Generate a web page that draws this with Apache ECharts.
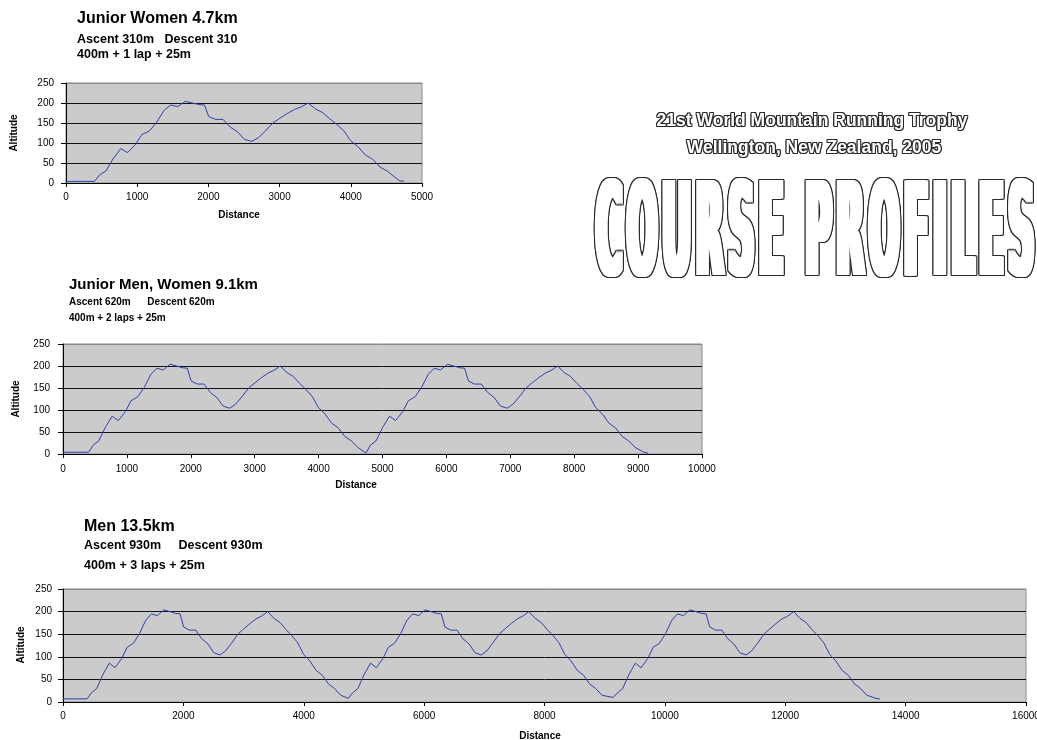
<!DOCTYPE html>
<html>
<head>
<meta charset="utf-8">
<script src="https://cdn.jsdelivr.net/npm/echarts@6/dist/echarts.min.js"></script>
<style>
  html, body { margin: 0; padding: 0; background: #ffffff; }
  #chart { width: 1037px; height: 740px; }
</style>
</head>
<body>
<div id="chart"></div>
<script>
// One lap of the circuit: metres from the start of the lap, altitude in metres
const lapDistance = [70, 160, 260, 370, 465, 575, 665, 770, 870, 975,
  1070, 1170, 1275, 1375, 1470, 1545, 1605, 1700, 1805, 1905,
  2010, 2105, 2210, 2300, 2400, 2505, 2605, 2710, 2810, 2900,
  3000, 3105, 3205, 3300, 3400, 3500, 3595, 3700, 3805, 3910,
  4010, 4110, 4215];
const lapAltitude = [20, 30, 60, 86, 76, 96, 121, 130, 151, 181,
  195, 191, 204, 200, 196, 195, 166, 159, 159, 140,
  128, 109, 104, 113, 130, 150, 162, 174, 184, 190,
  200, 185, 176, 161, 147, 131, 106, 91, 70, 59,
  40, 30, 15];

// Lap changeovers for each course (distance, altitude) and the finish point
const juniorWomenLapMarks = [400, 4690];
const juniorWomenMarkAltitude = [4, 5];
const juniorWomenFinish = [4750, 5];

const juniorMixedLapMarks = [400, 4740, 9090];
const juniorMixedMarkAltitude = [4, 2, 4];
const juniorMixedFinish = [9155, 2];

const menLapMarks = [400, 4740, 9140, 13505];
const menMarkAltitude = [7, 8, 10, 8];
const menFinish = [13570, 7];

// Axis extents
const altitudeMax = 250;
const altitudeStep = 50;
const distanceMax = [5000, 10000, 16000];
const distanceStep = [1000, 1000, 2000];

// 400 m lead-in, then the laps, then the run to the line
function buildCourse(marks, markAlt, finish) {
  const pts = [[0, markAlt[0]]];
  for (let i = 0; i < marks.length; i++) {
    pts.push([marks[i], markAlt[i]]);
    if (i < marks.length - 1) {
      for (let j = 0; j < lapDistance.length; j++) {
        pts.push([marks[i] + lapDistance[j], lapAltitude[j]]);
      }
    }
  }
  pts.push(finish);
  return pts;
}

const courses = [
  buildCourse(juniorWomenLapMarks, juniorWomenMarkAltitude, juniorWomenFinish),
  buildCourse(juniorMixedLapMarks, juniorMixedMarkAltitude, juniorMixedFinish),
  buildCourse(menLapMarks, menMarkAltitude, menFinish)
];

const FONT = '"Liberation Sans", Arial, Helvetica, sans-serif';

const grids = [
  { left: 66, top: 83, width: 356, height: 100 },
  { left: 63, top: 344, width: 639, height: 110 },
  { left: 63, top: 589, width: 963, height: 113 }
];
const yLabelMargin = [12, 13, 11];
const xLabelMargin = [9, 10, 9];

// Plain text helper
function label(text, x, y, size, opts) {
  opts = opts || {};
  return {
    type: 'text', x: x, y: y, rotation: opts.rotation || 0, silent: true, z: 10,
    style: {
      text: text, x: 0, y: 0,
      font: (opts.weight || 'bold') + ' ' + size + 'px ' + FONT,
      fill: '#000', align: opts.align || 'left', verticalAlign: 'middle'
    }
  };
}

// Hollow lettering: dark copies offset by a pixel, white copy on top
function hollowText(text, x, y, font, sx, sy, spread) {
  const out = [];
  const offs = [[-1, -1], [0, -1], [1, -1], [-1, 0], [1, 0], [-1, 1], [0, 1], [1, 1]];
  const steps = [];
  for (let k = 0; k <= spread; k++) steps.push(k);
  steps.forEach(function (k) {
    offs.forEach(function (o) {
      out.push({
        type: 'text', x: x + k + o[0], y: y + o[1], scaleX: sx, scaleY: sy, silent: true, z: 10,
        style: { text: text, x: 0, y: 0, font: font, fill: '#2a2a2a', align: 'center', verticalAlign: 'middle' }
      });
    });
  });
  steps.forEach(function (k) {
    out.push({
      type: 'text', x: x + k, y: y, scaleX: sx, scaleY: sy, silent: true, z: 11,
      style: { text: text, x: 0, y: 0, font: font, fill: '#ffffff', align: 'center', verticalAlign: 'middle' }
    });
  });
  return out;
}

// Large banner, set letter by letter into its box
const bannerText = 'COURSE PROFILES';
const bannerFont = 'bold 100px "DejaVu Sans", ' + FONT;
const bannerBox = { left: 593, top: 180, width: 444, height: 95 };
const bannerSpread = 6;
const bannerTracking = 5;
const mctx = document.createElement('canvas').getContext('2d');
mctx.font = bannerFont;
mctx.textBaseline = 'middle';
const chars = bannerText.split('');
const advances = chars.map(function (c) { return mctx.measureText(c).width; });
const rawTotal = advances.reduce(function (a, b) { return a + b; }, 0);
const hm = mctx.measureText('H');
const capAsc = hm.actualBoundingBoxAscent || 36;
const capDesc = hm.actualBoundingBoxDescent || -36;
const capH = capAsc + capDesc > 1 ? capAsc + capDesc : 72;
const bsx = (bannerBox.width - bannerSpread - bannerTracking * (chars.length - 1)) / rawTotal;
const bsy = bannerBox.height / capH;
const bannerY = bannerBox.top + capAsc * bsy;
let bannerEls = [];
let cursor = bannerBox.left;
chars.forEach(function (c, i) {
  const w = advances[i] * bsx;
  if (c !== ' ') {
    bannerEls = bannerEls.concat(hollowText(c, cursor + w / 2, bannerY, bannerFont, bsx, bsy, bannerSpread));
  }
  cursor += w + bannerTracking;
});

const headFont = 'bold 17.5px ' + FONT;

const graphic = []
  .concat(hollowText('21st World Mountain Running Trophy', 812, 121, headFont, 1, 1, 0))
  .concat(hollowText('Wellington, New Zealand, 2005', 814, 148, headFont, 1, 1, 0))
  .concat(bannerEls)
  .concat([
    label('Junior Women 4.7km', 77, 19, 16),
    label('Ascent 310m   Descent 310', 77, 40, 12.5),
    label('400m + 1 lap + 25m', 77, 55, 12.5),
    label('Altitude', 14, 133, 10, { rotation: Math.PI / 2, align: 'center' }),
    label('Distance', 239, 215, 10, { align: 'center' }),

    label('Junior Men, Women 9.1km', 69, 285, 15),
    label('Ascent 620m      Descent 620m', 69, 302, 10),
    label('400m + 2 laps + 25m', 69, 318, 10),
    label('Altitude', 16, 399, 10, { rotation: Math.PI / 2, align: 'center' }),
    label('Distance', 356, 485, 10, { align: 'center' }),

    label('Men 13.5km', 84, 527, 16),
    label('Ascent 930m     Descent 930m', 84, 546, 12.5),
    label('400m + 3 laps + 25m', 84, 566, 12.5),
    label('Altitude', 21, 645, 10, { rotation: Math.PI / 2, align: 'center' }),
    label('Distance', 540, 736, 10, { align: 'center' })
  ]);

const plainNumber = function (v) { return String(v); };

const option = {
  animation: false,
  backgroundColor: '#ffffff',
  grid: grids.map(function (g) {
    return Object.assign({
      show: true, backgroundColor: '#cbcbcb', borderColor: '#8a8a8a', borderWidth: 1,
      containLabel: false, outerBoundsMode: 'none'
    }, g);
  }),
  xAxis: grids.map(function (g, i) {
    return {
      type: 'value', gridIndex: i, min: 0, max: distanceMax[i], interval: distanceStep[i],
      axisLine: { show: true, lineStyle: { color: '#000', width: 1 } },
      axisTick: { show: true, inside: false, length: 4, lineStyle: { color: '#000' } },
      axisLabel: { show: true, color: '#000', fontFamily: FONT, fontSize: 10, margin: xLabelMargin[i],
        showMaxLabel: true, formatter: plainNumber },
      splitLine: { show: false }
    };
  }),
  yAxis: grids.map(function (g, i) {
    return {
      type: 'value', gridIndex: i, min: 0, max: altitudeMax, interval: altitudeStep,
      axisLine: { show: true, lineStyle: { color: '#000', width: 1 } },
      axisTick: { show: true, inside: false, length: 5, lineStyle: { color: '#000' } },
      axisLabel: { show: true, color: '#000', fontFamily: FONT, fontSize: 10, margin: yLabelMargin[i],
        formatter: plainNumber },
      splitLine: { show: true, lineStyle: { color: ['#000', '#111', '#111', '#111', '#111', '#8a8a8a'], width: 1 } }
    };
  }),
  series: courses.map(function (data, i) {
    return {
      type: 'line', xAxisIndex: i, yAxisIndex: i, data: data,
      showSymbol: false, symbol: 'none',
      lineStyle: { color: '#3040a8', width: 1 },
      z: 5
    };
  }),
  graphic: graphic
};

const chart = echarts.init(document.getElementById('chart'), null, { renderer: 'canvas' });
chart.setOption(option);
</script>
</body>
</html>
